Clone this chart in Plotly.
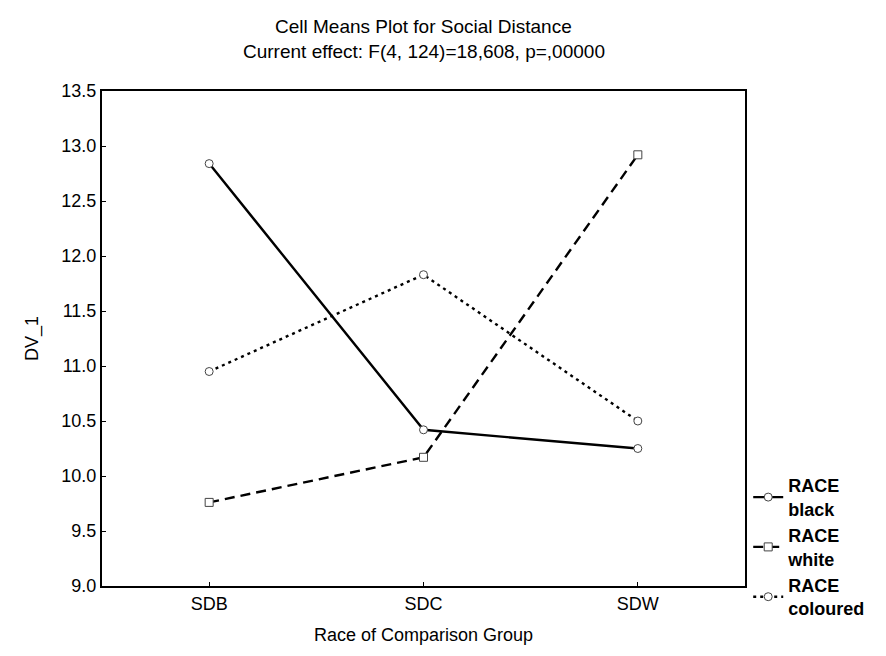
import plotly.graph_objects as go

categories = ["SDB", "SDC", "SDW"]
black = [12.84, 10.42, 10.25]
white = [9.76, 10.17, 12.92]
coloured = [10.95, 11.83, 10.50]
yticks = [9.0, 9.5, 10.0, 10.5, 11.0, 11.5, 12.0, 12.5, 13.0, 13.5]

FONT = "Arial, Liberation Sans, sans-serif"

fig = go.Figure()
series = [
    ("RACE<br>black", black, "solid", "circle"),
    ("RACE<br>white", white, "10px,6px", "square"),
    ("RACE<br>coloured", coloured, "3px,4px", "circle"),
]
for name, vals, dash, sym in series:
    fig.add_trace(go.Scatter(
        x=list(range(len(categories))), y=vals, name=name,
        mode="lines+markers",
        line=dict(color="black", width=2.4, dash=dash),
        marker=dict(symbol=sym, size=8,
                    color="white", line=dict(color="#444", width=1)),
    ))

fig.update_layout(
    width=886, height=656,
    margin=dict(l=94, r=149, t=83, b=78),
    paper_bgcolor="white", plot_bgcolor="white",
    font=dict(family=FONT, color="black", size=18),
    showlegend=True,
    legend=dict(x=1.005, xanchor="left", y=0.24, yanchor="top",
                font=dict(family=FONT, size=18, color="black", weight="bold"),
                bgcolor="rgba(0,0,0,0)", tracegroupgap=0, itemwidth=30),
)
fig.add_annotation(text="Cell Means Plot for Social Distance", xref="paper", yref="paper",
                   x=0.5, y=1, yshift=65, showarrow=False, yanchor="middle",
                   font=dict(size=19, family=FONT))
fig.add_annotation(text="Current effect: F(4, 124)=18,608, p=,00000", xref="paper", yref="paper",
                   x=0.5, y=1, yshift=40, showarrow=False, yanchor="middle",
                   font=dict(size=19, family=FONT))
fig.update_xaxes(
    range=[-0.5, 2.5], tickvals=list(range(len(categories))), ticktext=categories,
    showline=True, linecolor="black", linewidth=2, mirror=True,
    ticks="inside", ticklen=4, tickcolor="black", showgrid=False, zeroline=False,
    tickfont=dict(size=18),
    title=dict(text="Race of Comparison Group", font=dict(size=18), standoff=16),
)
fig.update_yaxes(
    range=[9.0, 13.5], tickvals=yticks, ticktext=[f"{v:.1f}" for v in yticks],
    showline=True, linecolor="black", linewidth=2, mirror=True,
    ticks="inside", ticklen=4, tickcolor="black", showgrid=False, zeroline=False,
    tickfont=dict(size=18),
    title=dict(text="DV_1", font=dict(size=18), standoff=18),
)
fig.write_html("out.html")
